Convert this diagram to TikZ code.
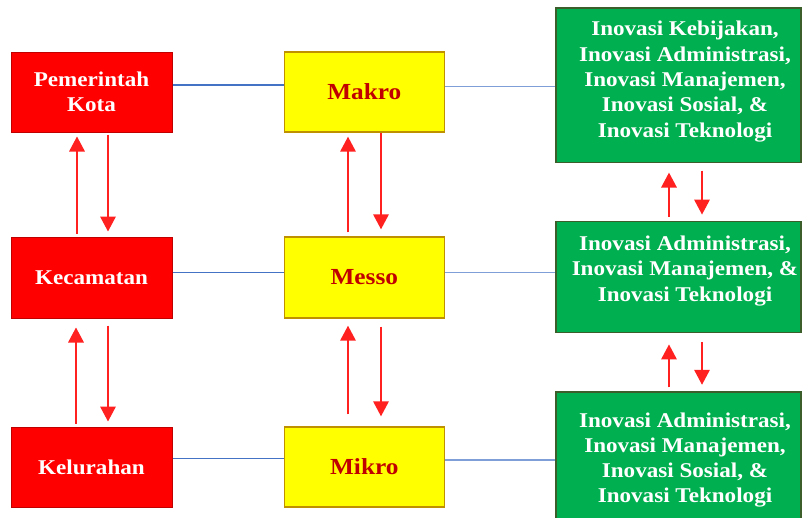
\documentclass[tikz,border=0pt]{standalone}
\usepackage{fontspec}
\setmainfont{Liberation Serif}[FakeStretch=1.1]
\usetikzlibrary{arrows.meta}
\definecolor{boxred}{HTML}{FF0000}
\definecolor{redborder}{HTML}{C00000}
\definecolor{boxyellow}{HTML}{FFFF00}
\definecolor{yellowborder}{HTML}{BF9000}
\definecolor{darkredtext}{HTML}{C00000}
\definecolor{boxgreen}{HTML}{00B050}
\definecolor{greenborder}{HTML}{3B5E2B}
\definecolor{lineblue}{HTML}{4472C4}
\definecolor{lineblueb}{HTML}{7F9FD9}
\definecolor{arrowred}{HTML}{FF2020}
\tikzset{
  redbox/.style={draw=redborder, line width=1pt, fill=boxred, minimum width=161pt, minimum height=80pt, inner sep=0pt,
    text=white, font=\bfseries\fontsize{21}{25}\selectfont, align=center},
  yellowbox/.style={draw=yellowborder, line width=1.4pt, fill=boxyellow, minimum width=160pt, minimum height=80pt, inner sep=0pt,
    text=darkredtext, font=\bfseries\fontsize{23}{26}\selectfont, align=center},
  greenbox/.style={draw=greenborder, line width=1.3pt, fill=boxgreen, minimum width=245pt, inner sep=0pt},
  greentext/.style={text=white, font=\bfseries\fontsize{21}{25.3}\selectfont, align=center, inner sep=0pt},
  linkleft/.style={draw=lineblue, line width=1.1pt},
  linkright/.style={draw=lineblueb, line width=1.4pt},
  uparrow/.style={draw=arrowred, line width=1.7pt, -{Triangle[width=15.5pt,length=15pt]}},
}
\begin{document}
\begin{tikzpicture}[x=1pt,y=-1pt]
\useasboundingbox (0,0) rectangle (802,517);
% red column
\node[redbox] (pk) at (91.5,92) {Pemerintah\\Kota};
\node[redbox, minimum height=81pt] (kec) at (91.5,277.5) {Kecamatan};
\node[redbox] (kel) at (91.5,467) {Kelurahan};
% yellow column
\node[yellowbox] (mak) at (364.3,92) {Makro};
\node[yellowbox, minimum height=81pt] (mes) at (364.3,277.5) {Messo};
\node[yellowbox] (mik) at (364.3,467) {Mikro};
% green column
\node[greenbox, minimum height=154.5pt] (g1) at (678.5,85.2) {};
\node[greenbox, minimum height=110.6pt] (g2) at (678.5,277) {};
\node[greenbox, minimum height=135pt] (g3) at (678.5,459.4) {};
\node[greentext] (g1t) at (685,81.5) {Inovasi Kebijakan,\\Inovasi Administrasi,\\Inovasi Manajemen,\\Inovasi Sosial, \&\\Inovasi Teknologi};
\node[greentext] (g2t) at (685,271) {Inovasi Administrasi,\\Inovasi Manajemen, \&\\Inovasi Teknologi};
\node[greentext] (g3t) at (685,460) {Inovasi Administrasi,\\Inovasi Manajemen,\\Inovasi Sosial, \&\\Inovasi Teknologi};
% blue links
\draw[linkleft] ([yshift=7pt]pk.east) -- ([yshift=7pt]mak.west);
\draw[linkright] ([yshift=5.3pt]mak.east) -- ([yshift=-1.5pt]g1.west);
\draw[linkleft] ([yshift=5.2pt]kec.east) -- ([yshift=5.2pt]mes.west);
\draw[linkright] ([yshift=5pt]mes.east) -- ([yshift=4.5pt]g2.west);
\draw[linkleft] ([yshift=8.7pt]kel.east) -- ([yshift=8.7pt]mik.west);
\draw[linkright] ([yshift=7pt]mik.east) -- ([yshift=-0.6pt]g3.west);
% red arrows, left column
\draw[uparrow, shorten <=3pt, shorten >=4pt] ([xshift=-14.5pt]kec.north) -- ([xshift=-14.5pt]pk.south);
\draw[uparrow, shorten <=2pt, shorten >=5pt] ([xshift=16.5pt]pk.south) -- ([xshift=16.5pt]kec.north);
\draw[uparrow, shorten <=3pt, shorten >=9pt] ([xshift=-15.5pt]kel.north) -- ([xshift=-15.5pt]kec.south);
\draw[uparrow, shorten <=7pt, shorten >=5pt] ([xshift=16.5pt]kec.south) -- ([xshift=16.5pt]kel.north);
% red arrows, middle column
\draw[uparrow, shorten <=4pt, shorten >=4pt] ([xshift=-16.3pt]mes.north) -- ([xshift=-16.3pt]mak.south);
\draw[uparrow, shorten <=0pt, shorten >=7pt] ([xshift=16.7pt]mak.south) -- ([xshift=16.7pt]mes.north);
\draw[uparrow, shorten <=12pt, shorten >=7pt] ([xshift=-16.3pt]mik.north) -- ([xshift=-16.3pt]mes.south);
\draw[uparrow, shorten <=8pt, shorten >=10pt] ([xshift=16.7pt]mes.south) -- ([xshift=16.7pt]mik.north);
% red arrows, right column
\draw[uparrow, shorten <=4.5pt, shorten >=9.5pt] ([xshift=-9.5pt]g2.north) -- ([xshift=-9.5pt]g1.south);
\draw[uparrow, shorten <=7.5pt, shorten >=6.5pt] ([xshift=23.5pt]g1.south) -- ([xshift=23.5pt]g2.north);
\draw[uparrow, shorten <=4pt, shorten >=11.5pt] ([xshift=-9.5pt]g3.north) -- ([xshift=-9.5pt]g2.south);
\draw[uparrow, shorten <=9pt, shorten >=6.5pt] ([xshift=23.5pt]g2.south) -- ([xshift=23.5pt]g3.north);
\end{tikzpicture}
\end{document}
